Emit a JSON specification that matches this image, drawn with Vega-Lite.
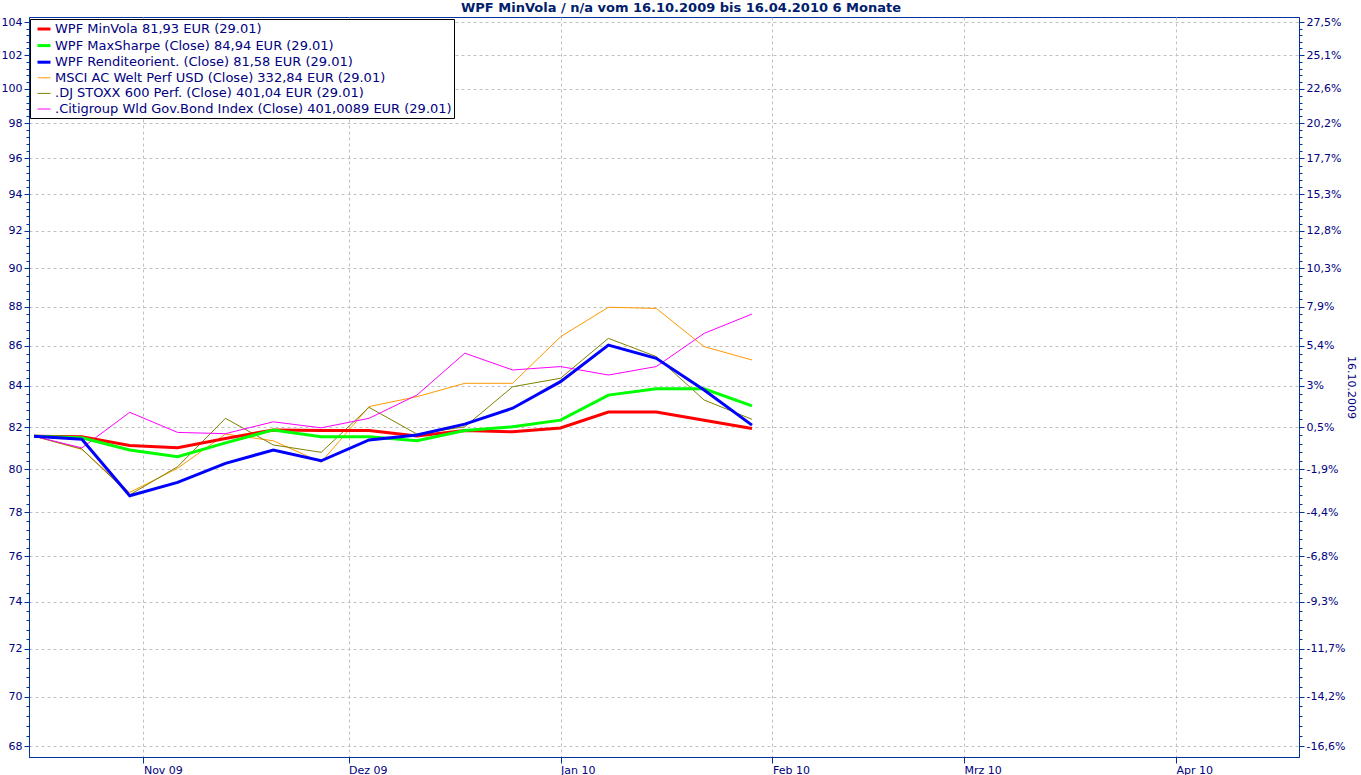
{
  "$schema": "https://vega.github.io/schema/vega-lite/v6.json",
  "width": 1270,
  "height": 740,
  "autosize": {"type": "none"},
  "padding": {"left": 29, "top": 17, "right": 62, "bottom": 18},
  "background": "white",
  "title": {
    "text": "WPF MinVola / n/a vom 16.10.2009 bis 16.04.2010 6 Monate",
    "font": "DejaVu Sans",
    "fontSize": 13,
    "fontWeight": "bold",
    "color": "#00206b",
    "anchor": "middle",
    "baseline": "bottom",
    "offset": 4,
    "dx": 17,
    "dy": 16
  },
  "config": {
    "view": {"stroke": "#003399", "strokeWidth": 1},
    "axis": {
      "labelFont": "DejaVu Sans",
      "labelFontSize": 11,
      "labelColor": "#000080",
      "domainColor": "#003399",
      "tickColor": "#003399",
      "gridColor": "#c0c0c0",
      "gridDash": [3, 3],
      "titleFont": "DejaVu Sans",
      "titleFontSize": 11,
      "titleFontWeight": "normal",
      "titleColor": "#000080"
    }
  },
  "datasets": {
    "prices": [
      {"date": "2009-10-16", "series": "WPF MinVola 81,93 EUR (29.01)", "value": 81.56},
      {"date": "2009-10-23", "series": "WPF MinVola 81,93 EUR (29.01)", "value": 81.53},
      {"date": "2009-10-30", "series": "WPF MinVola 81,93 EUR (29.01)", "value": 81.11},
      {"date": "2009-11-06", "series": "WPF MinVola 81,93 EUR (29.01)", "value": 81.01},
      {"date": "2009-11-13", "series": "WPF MinVola 81,93 EUR (29.01)", "value": 81.45},
      {"date": "2009-11-20", "series": "WPF MinVola 81,93 EUR (29.01)", "value": 81.86},
      {"date": "2009-11-27", "series": "WPF MinVola 81,93 EUR (29.01)", "value": 81.83},
      {"date": "2009-12-04", "series": "WPF MinVola 81,93 EUR (29.01)", "value": 81.83},
      {"date": "2009-12-11", "series": "WPF MinVola 81,93 EUR (29.01)", "value": 81.57},
      {"date": "2009-12-18", "series": "WPF MinVola 81,93 EUR (29.01)", "value": 81.83},
      {"date": "2009-12-25", "series": "WPF MinVola 81,93 EUR (29.01)", "value": 81.77},
      {"date": "2010-01-01", "series": "WPF MinVola 81,93 EUR (29.01)", "value": 81.95},
      {"date": "2010-01-08", "series": "WPF MinVola 81,93 EUR (29.01)", "value": 82.72},
      {"date": "2010-01-15", "series": "WPF MinVola 81,93 EUR (29.01)", "value": 82.72},
      {"date": "2010-01-22", "series": "WPF MinVola 81,93 EUR (29.01)", "value": 82.33},
      {"date": "2010-01-29", "series": "WPF MinVola 81,93 EUR (29.01)", "value": 81.93},

      {"date": "2009-10-16", "series": "WPF MaxSharpe (Close) 84,94 EUR (29.01)", "value": 81.56},
      {"date": "2009-10-23", "series": "WPF MaxSharpe (Close) 84,94 EUR (29.01)", "value": 81.48},
      {"date": "2009-10-30", "series": "WPF MaxSharpe (Close) 84,94 EUR (29.01)", "value": 80.90},
      {"date": "2009-11-06", "series": "WPF MaxSharpe (Close) 84,94 EUR (29.01)", "value": 80.58},
      {"date": "2009-11-13", "series": "WPF MaxSharpe (Close) 84,94 EUR (29.01)", "value": 81.24},
      {"date": "2009-11-20", "series": "WPF MaxSharpe (Close) 84,94 EUR (29.01)", "value": 81.86},
      {"date": "2009-11-27", "series": "WPF MaxSharpe (Close) 84,94 EUR (29.01)", "value": 81.53},
      {"date": "2009-12-04", "series": "WPF MaxSharpe (Close) 84,94 EUR (29.01)", "value": 81.53},
      {"date": "2009-12-11", "series": "WPF MaxSharpe (Close) 84,94 EUR (29.01)", "value": 81.34},
      {"date": "2009-12-18", "series": "WPF MaxSharpe (Close) 84,94 EUR (29.01)", "value": 81.83},
      {"date": "2009-12-25", "series": "WPF MaxSharpe (Close) 84,94 EUR (29.01)", "value": 82.01},
      {"date": "2010-01-01", "series": "WPF MaxSharpe (Close) 84,94 EUR (29.01)", "value": 82.33},
      {"date": "2010-01-08", "series": "WPF MaxSharpe (Close) 84,94 EUR (29.01)", "value": 83.55},
      {"date": "2010-01-15", "series": "WPF MaxSharpe (Close) 84,94 EUR (29.01)", "value": 83.86},
      {"date": "2010-01-22", "series": "WPF MaxSharpe (Close) 84,94 EUR (29.01)", "value": 83.86},
      {"date": "2010-01-29", "series": "WPF MaxSharpe (Close) 84,94 EUR (29.01)", "value": 83.02},

      {"date": "2009-10-16", "series": "WPF Renditeorient. (Close) 81,58 EUR (29.01)", "value": 81.56},
      {"date": "2009-10-23", "series": "WPF Renditeorient. (Close) 81,58 EUR (29.01)", "value": 81.41},
      {"date": "2009-10-30", "series": "WPF Renditeorient. (Close) 81,58 EUR (29.01)", "value": 78.76},
      {"date": "2009-11-06", "series": "WPF Renditeorient. (Close) 81,58 EUR (29.01)", "value": 79.38},
      {"date": "2009-11-13", "series": "WPF Renditeorient. (Close) 81,58 EUR (29.01)", "value": 80.27},
      {"date": "2009-11-20", "series": "WPF Renditeorient. (Close) 81,58 EUR (29.01)", "value": 80.90},
      {"date": "2009-11-27", "series": "WPF Renditeorient. (Close) 81,58 EUR (29.01)", "value": 80.39},
      {"date": "2009-12-04", "series": "WPF Renditeorient. (Close) 81,58 EUR (29.01)", "value": 81.38},
      {"date": "2009-12-11", "series": "WPF Renditeorient. (Close) 81,58 EUR (29.01)", "value": 81.62},
      {"date": "2009-12-18", "series": "WPF Renditeorient. (Close) 81,58 EUR (29.01)", "value": 82.14},
      {"date": "2009-12-25", "series": "WPF Renditeorient. (Close) 81,58 EUR (29.01)", "value": 82.91},
      {"date": "2010-01-01", "series": "WPF Renditeorient. (Close) 81,58 EUR (29.01)", "value": 84.21},
      {"date": "2010-01-08", "series": "WPF Renditeorient. (Close) 81,58 EUR (29.01)", "value": 86.04},
      {"date": "2010-01-15", "series": "WPF Renditeorient. (Close) 81,58 EUR (29.01)", "value": 85.37},
      {"date": "2010-01-22", "series": "WPF Renditeorient. (Close) 81,58 EUR (29.01)", "value": 83.80},
      {"date": "2010-01-29", "series": "WPF Renditeorient. (Close) 81,58 EUR (29.01)", "value": 82.09},

      {"date": "2009-10-16", "series": "MSCI AC Welt Perf USD (Close) 332,84 EUR (29.01)", "value": 81.56},
      {"date": "2009-10-23", "series": "MSCI AC Welt Perf USD (Close) 332,84 EUR (29.01)", "value": 80.93},
      {"date": "2009-10-30", "series": "MSCI AC Welt Perf USD (Close) 332,84 EUR (29.01)", "value": 78.91},
      {"date": "2009-11-06", "series": "MSCI AC Welt Perf USD (Close) 332,84 EUR (29.01)", "value": 80.04},
      {"date": "2009-11-13", "series": "MSCI AC Welt Perf USD (Close) 332,84 EUR (29.01)", "value": 81.66},
      {"date": "2009-11-20", "series": "MSCI AC Welt Perf USD (Close) 332,84 EUR (29.01)", "value": 81.34},
      {"date": "2009-11-27", "series": "MSCI AC Welt Perf USD (Close) 332,84 EUR (29.01)", "value": 80.32},
      {"date": "2009-12-04", "series": "MSCI AC Welt Perf USD (Close) 332,84 EUR (29.01)", "value": 82.99},
      {"date": "2009-12-11", "series": "MSCI AC Welt Perf USD (Close) 332,84 EUR (29.01)", "value": 83.47},
      {"date": "2009-12-18", "series": "MSCI AC Welt Perf USD (Close) 332,84 EUR (29.01)", "value": 84.13},
      {"date": "2009-12-25", "series": "MSCI AC Welt Perf USD (Close) 332,84 EUR (29.01)", "value": 84.13},
      {"date": "2010-01-01", "series": "MSCI AC Welt Perf USD (Close) 332,84 EUR (29.01)", "value": 86.46},
      {"date": "2010-01-08", "series": "MSCI AC Welt Perf USD (Close) 332,84 EUR (29.01)", "value": 87.97},
      {"date": "2010-01-15", "series": "MSCI AC Welt Perf USD (Close) 332,84 EUR (29.01)", "value": 87.91},
      {"date": "2010-01-22", "series": "MSCI AC Welt Perf USD (Close) 332,84 EUR (29.01)", "value": 85.96},
      {"date": "2010-01-29", "series": "MSCI AC Welt Perf USD (Close) 332,84 EUR (29.01)", "value": 85.29},

      {"date": "2009-10-16", "series": ".DJ STOXX 600 Perf. (Close) 401,04 EUR (29.01)", "value": 81.56},
      {"date": "2009-10-23", "series": ".DJ STOXX 600 Perf. (Close) 401,04 EUR (29.01)", "value": 80.95},
      {"date": "2009-10-30", "series": ".DJ STOXX 600 Perf. (Close) 401,04 EUR (29.01)", "value": 78.80},
      {"date": "2009-11-06", "series": ".DJ STOXX 600 Perf. (Close) 401,04 EUR (29.01)", "value": 80.11},
      {"date": "2009-11-13", "series": ".DJ STOXX 600 Perf. (Close) 401,04 EUR (29.01)", "value": 82.42},
      {"date": "2009-11-20", "series": ".DJ STOXX 600 Perf. (Close) 401,04 EUR (29.01)", "value": 81.14},
      {"date": "2009-11-27", "series": ".DJ STOXX 600 Perf. (Close) 401,04 EUR (29.01)", "value": 80.79},
      {"date": "2009-12-04", "series": ".DJ STOXX 600 Perf. (Close) 401,04 EUR (29.01)", "value": 82.95},
      {"date": "2009-12-11", "series": ".DJ STOXX 600 Perf. (Close) 401,04 EUR (29.01)", "value": 81.66},
      {"date": "2009-12-18", "series": ".DJ STOXX 600 Perf. (Close) 401,04 EUR (29.01)", "value": 82.01},
      {"date": "2009-12-25", "series": ".DJ STOXX 600 Perf. (Close) 401,04 EUR (29.01)", "value": 83.96},
      {"date": "2010-01-01", "series": ".DJ STOXX 600 Perf. (Close) 401,04 EUR (29.01)", "value": 84.38},
      {"date": "2010-01-08", "series": ".DJ STOXX 600 Perf. (Close) 401,04 EUR (29.01)", "value": 86.38},
      {"date": "2010-01-15", "series": ".DJ STOXX 600 Perf. (Close) 401,04 EUR (29.01)", "value": 85.46},
      {"date": "2010-01-22", "series": ".DJ STOXX 600 Perf. (Close) 401,04 EUR (29.01)", "value": 83.31},
      {"date": "2010-01-29", "series": ".DJ STOXX 600 Perf. (Close) 401,04 EUR (29.01)", "value": 82.37},

      {"date": "2009-10-16", "series": ".Citigroup Wld Gov.Bond Index (Close) 401,0089 EUR (29.01)", "value": 81.56},
      {"date": "2009-10-23", "series": ".Citigroup Wld Gov.Bond Index (Close) 401,0089 EUR (29.01)", "value": 81.00},
      {"date": "2009-10-30", "series": ".Citigroup Wld Gov.Bond Index (Close) 401,0089 EUR (29.01)", "value": 82.71},
      {"date": "2009-11-06", "series": ".Citigroup Wld Gov.Bond Index (Close) 401,0089 EUR (29.01)", "value": 81.74},
      {"date": "2009-11-13", "series": ".Citigroup Wld Gov.Bond Index (Close) 401,0089 EUR (29.01)", "value": 81.68},
      {"date": "2009-11-20", "series": ".Citigroup Wld Gov.Bond Index (Close) 401,0089 EUR (29.01)", "value": 82.25},
      {"date": "2009-11-27", "series": ".Citigroup Wld Gov.Bond Index (Close) 401,0089 EUR (29.01)", "value": 81.96},
      {"date": "2009-12-04", "series": ".Citigroup Wld Gov.Bond Index (Close) 401,0089 EUR (29.01)", "value": 82.42},
      {"date": "2009-12-11", "series": ".Citigroup Wld Gov.Bond Index (Close) 401,0089 EUR (29.01)", "value": 83.55},
      {"date": "2009-12-18", "series": ".Citigroup Wld Gov.Bond Index (Close) 401,0089 EUR (29.01)", "value": 85.63},
      {"date": "2009-12-25", "series": ".Citigroup Wld Gov.Bond Index (Close) 401,0089 EUR (29.01)", "value": 84.79},
      {"date": "2010-01-01", "series": ".Citigroup Wld Gov.Bond Index (Close) 401,0089 EUR (29.01)", "value": 84.96},
      {"date": "2010-01-08", "series": ".Citigroup Wld Gov.Bond Index (Close) 401,0089 EUR (29.01)", "value": 84.54},
      {"date": "2010-01-15", "series": ".Citigroup Wld Gov.Bond Index (Close) 401,0089 EUR (29.01)", "value": 84.96},
      {"date": "2010-01-22", "series": ".Citigroup Wld Gov.Bond Index (Close) 401,0089 EUR (29.01)", "value": 86.63},
      {"date": "2010-01-29", "series": ".Citigroup Wld Gov.Bond Index (Close) 401,0089 EUR (29.01)", "value": 87.62}
    ]
  },
  "data": {"name": "prices"},
  "encoding": {
    "x": {
      "field": "date",
      "type": "temporal",
      "scale": {
        "type": "utc",
        "domain": [
          {"year": 2009, "month": 10, "date": 15, "hours": 6, "minutes": 27, "utc": true},
          {"year": 2010, "month": 4, "date": 19, "hours": 0, "utc": true}
        ]
      },
      "axis": {
        "title": null,
        "values": [
          {"year": 2009, "month": 11, "date": 1, "utc": true},
          {"year": 2009, "month": 12, "date": 1, "utc": true},
          {"year": 2010, "month": 1, "date": 1, "utc": true},
          {"year": 2010, "month": 2, "date": 1, "utc": true},
          {"year": 2010, "month": 3, "date": 1, "utc": true},
          {"year": 2010, "month": 4, "date": 1, "utc": true}
        ],
        "labelExpr": "['Jan','Feb','Mrz','Apr','Mai','Jun','Jul','Aug','Sep','Okt','Nov','Dez'][utcmonth(datum.value)] + ' ' + utcFormat(datum.value, '%y')",
        "labelAlign": "left",
        "labelBaseline": "top",
        "labelPadding": 1,
        "labelFlush": false,
        "labelOverlap": false,
        "tickSize": 6,
        "grid": true
      }
    },
    "color": {
      "field": "series",
      "type": "nominal",
      "scale": {
        "domain": [
          "WPF MinVola 81,93 EUR (29.01)",
          "WPF MaxSharpe (Close) 84,94 EUR (29.01)",
          "WPF Renditeorient. (Close) 81,58 EUR (29.01)",
          "MSCI AC Welt Perf USD (Close) 332,84 EUR (29.01)",
          ".DJ STOXX 600 Perf. (Close) 401,04 EUR (29.01)",
          ".Citigroup Wld Gov.Bond Index (Close) 401,0089 EUR (29.01)"
        ],
        "range": ["#ff0000", "#00ff00", "#0000ff", "#ff9900", "#808000", "#ff00ff"]
      },
      "legend": {
        "title": null,
        "orient": "none",
        "legendX": 1,
        "legendY": 2,
        "padding": 2,
        "strokeColor": "#000000",
        "fillColor": "#ffffff",
        "cornerRadius": 0,
        "symbolType": "stroke",
        "symbolSize": 169,
        "symbolOffset": 4,
        "symbolStrokeWidth": 2,
        "rowPadding": 1.6,
        "labelOffset": 3,
        "labelFont": "DejaVu Sans",
        "labelFontSize": 13,
        "labelColor": "#000080",
        "labelLimit": 600
      }
    },
    "strokeWidth": {
      "field": "series",
      "type": "nominal",
      "scale": {
        "type": "ordinal",
        "domain": [
          "WPF MinVola 81,93 EUR (29.01)",
          "WPF MaxSharpe (Close) 84,94 EUR (29.01)",
          "WPF Renditeorient. (Close) 81,58 EUR (29.01)",
          "MSCI AC Welt Perf USD (Close) 332,84 EUR (29.01)",
          ".DJ STOXX 600 Perf. (Close) 401,04 EUR (29.01)",
          ".Citigroup Wld Gov.Bond Index (Close) 401,0089 EUR (29.01)"
        ],
        "range": [3, 3, 3, 1, 1, 1]
      },
      "legend": null
    }
  },
  "layer": [
    {
      "transform": [
        {"filter": {"field": "series", "oneOf": [
          "MSCI AC Welt Perf USD (Close) 332,84 EUR (29.01)",
          ".DJ STOXX 600 Perf. (Close) 401,04 EUR (29.01)",
          ".Citigroup Wld Gov.Bond Index (Close) 401,0089 EUR (29.01)"
        ]}}
      ],
      "mark": {"type": "line", "interpolate": "linear"},
      "encoding": {
        "y": {
          "field": "value",
          "type": "quantitative",
          "scale": {"type": "log", "domain": [67.563, 104.306], "nice": false, "zero": false},
          "axis": {
            "title": null,
            "orient": "left",
            "values": [68,68.4,68.8,69.2,69.6,70,70.4,70.8,71.2,71.6,72,72.4,72.8,73.2,73.6,74,74.4,74.8,75.2,75.6,76,76.4,76.8,77.2,77.6,78,78.4,78.8,79.2,79.6,80,80.4,80.8,81.2,81.6,82,82.4,82.8,83.2,83.6,84,84.4,84.8,85.2,85.6,86,86.4,86.8,87.2,87.6,88,88.4,88.8,89.2,89.6,90,90.4,90.8,91.2,91.6,92,92.4,92.8,93.2,93.6,94,94.4,94.8,95.2,95.6,96,96.4,96.8,97.2,97.6,98,98.4,98.8,99.2,99.6,100,100.4,100.8,101.2,101.6,102,102.4,102.8,103.2,103.6,104],
            "labelExpr": "abs(datum.value/2 - round(datum.value/2)) < 0.01 ? format(datum.value, 'd') : ''",
            "labelOverlap": false,
            "labelBound": false,
            "labelPadding": 2,
            "tickSize": {"condition": {"test": "abs(datum.value/2 - round(datum.value/2)) < 0.01", "value": 5}, "value": 3},
            "grid": true,
            "gridOpacity": {"condition": {"test": "abs(datum.value/2 - round(datum.value/2)) < 0.01", "value": 1}, "value": 0}
          }
        }
      }
    },
    {
      "transform": [
        {"filter": {"field": "series", "oneOf": [
          "WPF MinVola 81,93 EUR (29.01)",
          "WPF MaxSharpe (Close) 84,94 EUR (29.01)",
          "WPF Renditeorient. (Close) 81,58 EUR (29.01)"
        ]}}
      ],
      "mark": {"type": "line", "interpolate": "linear"},
      "encoding": {
        "y": {
          "field": "value",
          "type": "quantitative",
          "axis": {
            "title": "16.10.2009",
            "orient": "right",
            "values": [68,68.4,68.8,69.2,69.6,70,70.4,70.8,71.2,71.6,72,72.4,72.8,73.2,73.6,74,74.4,74.8,75.2,75.6,76,76.4,76.8,77.2,77.6,78,78.4,78.8,79.2,79.6,80,80.4,80.8,81.2,81.6,82,82.4,82.8,83.2,83.6,84,84.4,84.8,85.2,85.6,86,86.4,86.8,87.2,87.6,88,88.4,88.8,89.2,89.6,90,90.4,90.8,91.2,91.6,92,92.4,92.8,93.2,93.6,94,94.4,94.8,95.2,95.6,96,96.4,96.8,97.2,97.6,98,98.4,98.8,99.2,99.6,100,100.4,100.8,101.2,101.6,102,102.4,102.8,103.2,103.6,104],
            "labelExpr": "abs(datum.value/2 - round(datum.value/2)) < 0.01 ? replace(replace(format(datum.value/81.56 - 1, '.1~%'), '.', ','), '\u2212', '-') : ''",
            "labelOverlap": false,
            "labelBound": false,
            "labelPadding": 2,
            "tickSize": {"condition": {"test": "abs(datum.value/2 - round(datum.value/2)) < 0.01", "value": 5}, "value": 3},
            "grid": false,
            "titlePadding": 1
          }
        }
      }
    }
  ],
  "resolve": {"axis": {"y": "independent"}}
}
